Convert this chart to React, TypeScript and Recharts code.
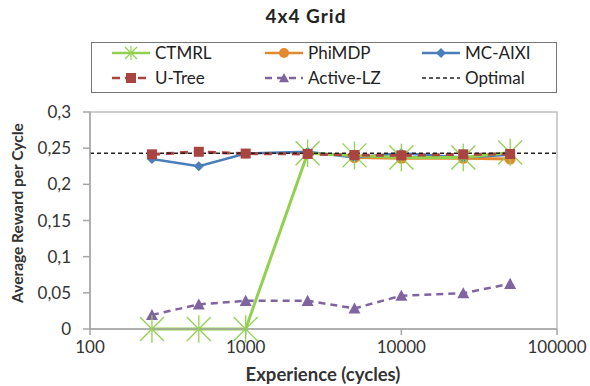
import React from 'react';
import { LineChart, Line, XAxis, YAxis, ReferenceArea } from 'recharts';

const cycles = [100, 250, 500, 1000, 2500, 5000, 10000, 25000, 50000, 100000];
const ctmrl = [null, 0, 0, 0, 0.243, 0.24, 0.237, 0.237, 0.244, null];
const phimdp = [null, null, null, null, null, 0.237, 0.236, 0.236, 0.235, null];
const mcaixi = [null, 0.235, 0.225, 0.2425, 0.245, 0.237, 0.243, 0.237, 0.241, null];
const utree = [null, 0.2415, 0.245, 0.2425, 0.242, 0.2405, 0.24, 0.2415, 0.242, null];
const activeLz = [null, 0.0195, 0.034, 0.039, 0.039, 0.0285, 0.046, 0.0495, 0.0625, null];
const optimal = [0.243, 0.243, 0.243, 0.243, 0.243, 0.243, 0.243, 0.243, 0.243, 0.243];

const xTicks = [100, 1000, 10000, 100000];
const yTicks = [0, 0.05, 0.1, 0.15, 0.2, 0.25, 0.3];

const data = cycles.map((c, i) => ({
  x: c,
  ctmrl: ctmrl[i],
  phimdp: phimdp[i],
  mcaixi: mcaixi[i],
  utree: utree[i],
  activeLz: activeLz[i],
  optimal: optimal[i],
}));

const C = {
  ctmrl: '#92D050',
  phimdp: '#E3892F',
  mcaixi: '#4A7EBB',
  utree: '#A94441',
  activeLz: '#8064A2',
  optimal: '#222222',
};

const FONT = 'Lato, "Open Sans", sans-serif';

const StarShape = ({ cx, cy, s = 12, w = 1.3 }: any) => (
  <g stroke={C.ctmrl} strokeWidth={w} fill="none">
    <line x1={cx - s} y1={cy - s} x2={cx + s} y2={cy + s} />
    <line x1={cx - s} y1={cy + s} x2={cx + s} y2={cy - s} />
    <line x1={cx} y1={cy - s * 1.15} x2={cx} y2={cy + s * 1.15} />
  </g>
);
const SquareShape = ({ cx, cy, s = 5 }: any) => (
  <rect x={cx - s} y={cy - s} width={2 * s} height={2 * s} fill={C.utree} stroke="none" />
);
const DiamondShape = ({ cx, cy, s = 5 }: any) => (
  <polygon points={`${cx},${cy - s} ${cx + s},${cy} ${cx},${cy + s} ${cx - s},${cy}`} fill={C.mcaixi} />
);
const CircleShape = ({ cx, cy, r = 5.5 }: any) => <circle cx={cx} cy={cy} r={r} fill={C.phimdp} />;
const TriShape = ({ cx, cy, s = 6 }: any) => (
  <polygon points={`${cx},${cy - s} ${cx + s},${cy + s * 0.85} ${cx - s},${cy + s * 0.85}`} fill={C.activeLz} />
);

const mkDot = (Comp: any) => (props: any) => {
  const { cx, cy, index, value } = props;
  if (cx == null || cy == null || value == null) return <g key={`d${index}`} />;
  return <Comp key={`d${index}`} cx={cx} cy={cy} />;
};

const legendItems = [
  { name: 'CTMRL', color: C.ctmrl, dash: undefined, marker: 'star' },
  { name: 'PhiMDP', color: C.phimdp, dash: undefined, marker: 'circle' },
  { name: 'MC-AIXI', color: C.mcaixi, dash: undefined, marker: 'diamond' },
  { name: 'U-Tree', color: C.utree, dash: '8 5', marker: 'square' },
  { name: 'Active-LZ', color: C.activeLz, dash: '7 5', marker: 'tri' },
  { name: 'Optimal', color: C.optimal, dash: '4 3', marker: 'none' },
];

const LegendIcon = ({ item }: any) => {
  const cx = 19, cy = 8;
  let m: any = null;
  if (item.marker === 'star') m = <StarShape cx={cx} cy={cy} s={6} w={1.2} />;
  if (item.marker === 'circle') m = <CircleShape cx={cx} cy={cy} r={5} />;
  if (item.marker === 'diamond') m = <DiamondShape cx={cx} cy={cy} s={5} />;
  if (item.marker === 'square') m = <SquareShape cx={cx} cy={cy} s={5} />;
  if (item.marker === 'tri') m = <TriShape cx={cx} cy={cy} s={5} />;
  return (
    <svg width={38} height={16} style={{ display: 'block' }}>
      <line x1={0} y1={cy} x2={38} y2={cy} stroke={item.color}
        strokeWidth={item.marker === 'none' ? 1.6 : 2.5} strokeDasharray={item.dash} />
      {m}
    </svg>
  );
};

const colX = [112, 265, 422];
const rowY = [53, 78];

export default function App() {
  return (
    <div style={{ position: 'absolute', left: 0, top: 0, width: 590, height: 386, background: '#fff', fontFamily: FONT }}>
      <div style={{ position: 'absolute', left: 0, width: 612, top: 4, textAlign: 'center', fontSize: 19, fontWeight: 700, letterSpacing: 1, color: '#222' }}>
        4x4 Grid
      </div>
      <div style={{ position: 'absolute', left: 91, top: 42, width: 464, height: 49, border: '1px solid #777' }} />
      {legendItems.map((it, i) => {
        const col = i % 3, row = Math.floor(i / 3);
        return (
          <div key={it.name} style={{ position: 'absolute', left: colX[col], top: rowY[row] - 11, height: 22, display: 'flex', alignItems: 'center' }}>
            <LegendIcon item={it} />
            <span style={{ marginLeft: 5, fontSize: 17, color: '#222', lineHeight: '22px' }}>{it.name}</span>
          </div>
        );
      })}
      <LineChart width={590} height={386} data={data} margin={{ top: 112, right: 33, bottom: 27, left: 0 }}
        style={{ position: 'absolute', left: 0, top: 0 }}>
        <ReferenceArea x1={100} x2={100000} y1={0} y2={0.3} fill="none" stroke="#BFBFBF" strokeWidth={1.5} ifOverflow="extendDomain" />
        <XAxis dataKey="x" type="number" scale="log" domain={[100, 100000]} ticks={xTicks} allowDataOverflow
          height={30} tickSize={6} tickMargin={6} stroke="#A6A6A6" strokeWidth={1.5}
          tick={{ fill: '#333', fontSize: 17, fontFamily: FONT }}
          label={{
            content: () => (
              <text x={323} y={381} textAnchor="middle" fontFamily={FONT} fontSize={18.5} fontWeight={700} fill="#333">
                Experience (cycles)
              </text>
            ),
          }}
        />
        <YAxis type="number" domain={[0, 0.3]} ticks={yTicks} width={90} tickSize={7} tickMargin={12}
          stroke="#A6A6A6" strokeWidth={1.5}
          tickFormatter={(v: number) => String(v).replace('.', ',')}
          tick={{ fill: '#333', fontSize: 17, fontFamily: FONT }}
          label={{
            content: () => (
              <text x={19} y={213} transform="rotate(-90 19 213)" textAnchor="middle" dominantBaseline="middle"
                fontFamily={FONT} fontSize={15.5} fontWeight={700} fill="#333">
                Average Reward per Cycle
              </text>
            ),
          }}
        />
        <Line dataKey="activeLz" stroke={C.activeLz} strokeWidth={2.5} strokeDasharray="7 5" dot={mkDot(TriShape)} isAnimationActive={false} connectNulls={false} />
        <Line dataKey="phimdp" stroke={C.phimdp} strokeWidth={3} dot={mkDot(CircleShape)} isAnimationActive={false} />
        <Line dataKey="mcaixi" stroke={C.mcaixi} strokeWidth={2.5} dot={mkDot(DiamondShape)} isAnimationActive={false} />
        <Line dataKey="ctmrl" stroke={C.ctmrl} strokeWidth={3} dot={mkDot(StarShape)} isAnimationActive={false} />
        <Line dataKey="utree" stroke={C.utree} strokeWidth={3} strokeDasharray="8 6" dot={mkDot(SquareShape)} isAnimationActive={false} />
        <Line dataKey="optimal" stroke={C.optimal} strokeWidth={1.6} strokeDasharray="4 3" dot={false} isAnimationActive={false} />
      </LineChart>
    </div>
  );
}
